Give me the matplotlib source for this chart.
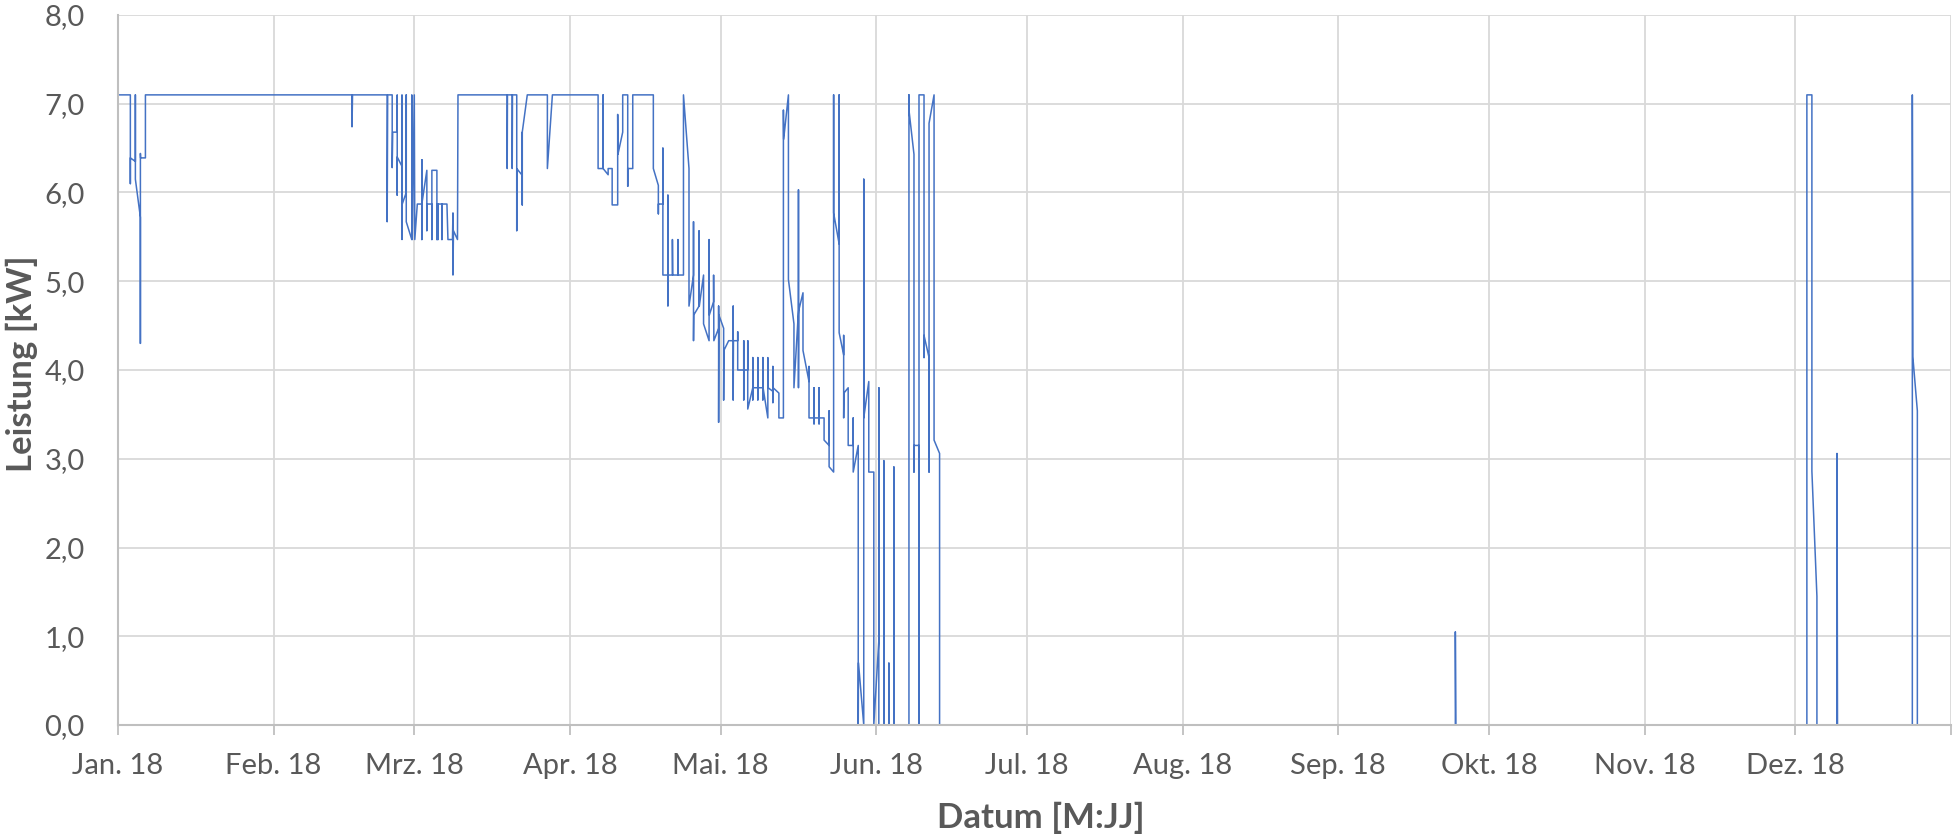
import matplotlib.pyplot as plt
import numpy as np
import pandas as pd

jan_mar_days = [0.3, 2.46, 2.46, 2.46, 3.46, 3.46, 3.46, 4.46, 4.46, 4.46, 4.5, 5.46, 5.46,
                46.6, 46.6, 46.7, 53.6, 53.6, 53.7, 54.6, 54.6, 54.7, 55.5, 55.6, 55.6, 55.6,
                56.5, 56.55, 56.55, 56.6, 57.4, 57.4, 57.4, 58.5, 58.5, 58.6, 59.0, 59.1, 59.6,
                60.5, 60.5, 60.5, 60.5, 61.5, 61.5, 61.5, 62.5, 62.5, 62.5, 63.5, 63.5, 63.5,
                63.7, 63.7, 63.7, 64.5, 64.5, 64.5, 65.5, 65.7, 66.6, 66.7, 66.7, 66.8, 67.6, 67.7]
jan_mar_kw = [7.1, 7.1, 6.1, 6.39, 6.35, 7.1, 6.15, 5.72, 4.3, 6.44, 6.39, 6.39, 7.1,
              7.1, 6.74, 7.1, 7.1, 5.67, 7.1, 7.1, 6.28, 6.68, 6.68, 7.1, 5.97, 6.4,
              6.3, 5.47, 7.1, 5.87, 6.0, 7.1, 5.67, 5.47, 7.1, 5.47, 7.1, 5.47, 5.87,
              5.87, 6.37, 5.47, 5.87, 6.25, 5.57, 5.87, 5.87, 5.47, 6.25, 6.25, 5.47, 5.87,
              5.87, 5.47, 5.87, 5.87, 5.47, 5.87, 5.87, 5.47, 5.47, 5.77, 5.07, 5.57, 5.47, 7.1]

apr_may_days = [77.5, 77.5, 77.55, 78.5, 78.5, 78.55, 79.4, 79.4, 79.4, 80.4, 80.5, 80.5, 80.5,
                81.5, 85.5, 85.5, 86.5, 95.6, 95.6, 96.6, 96.6, 96.6, 97.6, 97.6, 98.4, 98.4,
                99.5, 99.5, 99.55, 100.5, 100.5, 101.5, 101.5, 101.5, 102.5, 102.5, 106.6, 106.6,
                107.6, 107.6, 107.6, 108.5, 108.5, 108.5, 109.5, 109.5, 109.5, 109.55, 110.4,
                110.4, 110.45, 111.5, 111.5, 111.55, 112.6, 112.6, 113.7, 113.7, 114.6, 114.6,
                114.6, 114.65, 115.7, 115.7, 115.75, 116.6, 116.6, 117.7, 117.7, 117.75, 118.6,
                118.6, 118.65, 119.6, 119.6, 119.6, 119.65, 120.6, 120.6, 120.65, 121.6, 122.5,
                122.5, 122.5, 122.55, 123.4, 123.4, 123.4, 124.6, 124.6, 124.6, 124.65, 125.4,
                125.4, 125.4, 126.4, 126.4, 126.4, 126.45, 127.4, 127.4, 127.4, 127.45, 128.4,
                128.4, 128.4, 128.45, 129.4, 129.4, 129.45, 130.4, 130.4, 130.4, 130.45, 131.6,
                131.6, 132.5, 132.5, 132.55]
apr_may_kw = [7.1, 6.27, 7.1, 7.1, 6.27, 7.1, 7.1, 5.57, 6.27, 6.2, 6.68, 5.86, 6.68,
              7.1, 7.1, 6.27, 7.1, 7.1, 6.27, 6.27, 7.1, 6.27, 6.2, 6.27, 6.27, 5.86,
              5.86, 6.88, 6.43, 6.68, 7.1, 7.1, 6.07, 6.27, 6.27, 7.1, 7.1, 6.27,
              6.08, 5.76, 5.87, 5.87, 6.5, 5.07, 5.07, 5.97, 4.72, 5.07, 5.07,
              5.47, 5.07, 5.07, 5.47, 5.07, 5.07, 7.1, 6.27, 4.72, 5.07, 5.67,
              4.33, 4.62, 4.72, 5.57, 4.72, 5.07, 4.52, 4.33, 5.47, 4.62, 4.77,
              5.07, 4.33, 4.47, 4.72, 3.41, 4.62, 4.47, 3.66, 4.22, 4.33, 4.33,
              4.72, 3.66, 4.33, 4.33, 4.43, 4.0, 4.0, 4.33, 3.66, 4.0, 4.0,
              4.33, 3.56, 3.8, 4.14, 3.66, 3.8, 3.8, 4.14, 3.66, 3.8, 3.8,
              4.14, 3.66, 3.8, 3.46, 4.14, 3.8, 3.76, 4.04, 3.63, 3.8, 3.74,
              3.46, 3.46, 6.93, 6.6]

jun_days = [133.5, 133.5, 134.6, 134.6, 135.5, 135.5, 135.5, 135.55, 136.4, 136.4, 137.6, 137.6,
            137.6, 138.6, 138.6, 138.6, 138.65, 139.6, 139.6, 139.6, 139.65, 140.6, 140.6, 141.6,
            141.6, 141.6, 142.5, 142.5, 142.5, 143.6, 143.6, 143.6, 143.6, 144.5, 144.5, 144.5,
            144.55, 145.4, 145.4, 146.4, 146.4, 146.4, 147.4, 147.4, 147.45, 148.5, 148.5, 148.5,
            149.5, 149.5, 150.5, 150.5, 151.5, 151.5, 151.5, 152.5, 152.5, 152.55, 153.5, 153.5,
            153.55, 154.5, 154.5, 154.55, 157.5, 157.5, 157.5, 158.5, 158.5, 158.5, 159.5, 159.5,
            159.5, 160.5, 160.5, 160.5, 161.5, 161.5, 161.5, 162.5, 162.5, 163.6, 163.6]
jun_kw = [7.1, 5.02, 4.52, 3.8, 4.67, 6.03, 3.8, 4.67, 4.87, 4.22, 3.87, 4.04,
          3.46, 3.46, 3.8, 3.39, 3.46, 3.46, 3.8, 3.39, 3.46, 3.46, 3.21, 3.15,
          3.54, 2.91, 2.85, 7.1, 5.77, 5.42, 7.1, 4.87, 4.42, 4.17, 4.39, 3.46,
          3.74, 3.8, 3.15, 3.15, 3.46, 2.85, 3.15, 0.0, 0.7, 0.0, 6.15, 3.46,
          3.87, 2.85, 2.85, 0.0, 0.95, 3.8, 0.0, 0.0, 2.98, 0.0, 0.0, 0.7,
          0.0, 0.0, 2.91, 0.0, 0.0, 7.1, 6.93, 6.43, 2.85, 3.15, 3.15, 0.0,
          7.1, 7.1, 4.14, 4.39, 4.14, 2.85, 6.78, 7.1, 3.21, 3.06, 0.0]

late_days = [266.3, 266.3, 266.4, 336.3, 336.3, 337.3, 337.3, 338.3, 338.3, 342.3, 342.3, 342.4,
             357.3, 357.3, 357.4, 358.3, 358.3, 365.0]
late_kw = [0.0, 1.05, 0.0, 0.0, 7.1, 7.1, 2.86, 1.45, 0.0, 0.0, 3.06, 0.0,
           0.0, 7.1, 4.15, 3.54, 0.0, 0.0]

month_labels = ["Jan. 18", "Feb. 18", "Mrz. 18", "Apr. 18", "Mai. 18", "Jun. 18",
                "Jul. 18", "Aug. 18", "Sep. 18", "Okt. 18", "Nov. 18", "Dez. 18", ""]

days = np.concatenate([jan_mar_days, apr_may_days, jun_days, late_days])
kw = np.concatenate([jan_mar_kw, apr_may_kw, jun_kw, late_kw])
dates = pd.Timestamp("2018-01-01") + pd.to_timedelta(days, unit="D")

text_col = "#595959"
plt.rcParams['font.family'] = ['Lato', 'DejaVu Sans']

W, H = 1953, 838
fig = plt.figure(figsize=(W / 100, H / 100), dpi=100)
ax = fig.add_axes([118 / W, 113 / H, 1833 / W, 710 / H])

ax.plot(dates, kw, color="#4472C4", lw=1.1)

month_ticks = pd.date_range("2018-01-01", "2019-01-01", freq="MS")
ax.set_xticks(month_ticks)
ax.set_xticklabels(month_labels)
ax.set_xlim(month_ticks[0], month_ticks[-1])
ax.set_ylim(0, 8)
ax.set_yticks(np.arange(0, 9, 1))
ax.set_yticklabels([f"{v:.1f}".replace(".", ",") for v in range(9)])

ax.grid(True, color="#D9D9D9", lw=1.3)
ax.set_axisbelow(True)
for s in ["top", "right"]:
    ax.spines[s].set_visible(False)
for s in ["left", "bottom"]:
    ax.spines[s].set_color("#BFBFBF")
    ax.spines[s].set_linewidth(1.5)

ax.tick_params(axis="x", length=7, width=1.3, color="#BFBFBF", pad=13,
               labelsize=21, labelcolor=text_col)
ax.tick_params(axis="y", length=0, pad=24, labelsize=21, labelcolor=text_col)

# Achsentitel
fig.text(22 / W, 1 - 364 / H, "Leistung [kW]", rotation=90, ha="center", va="center",
         fontsize=25, fontweight="bold", color=text_col)
fig.text(1041 / W, 1 - 818 / H, "Datum [M:JJ]", ha="center", va="center",
         fontsize=25, fontweight="bold", color=text_col)

fig.savefig("out.png", dpi=100)
